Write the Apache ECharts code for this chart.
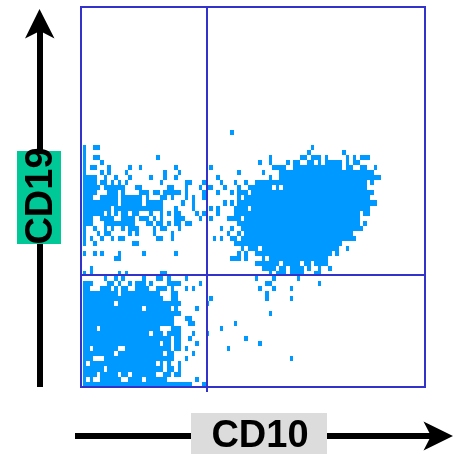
<!DOCTYPE html>
<html><head><meta charset="utf-8">
<style>html,body{margin:0;padding:0;background:#fff}#c{width:462px;height:454px}</style>
<script src="https://cdn.jsdelivr.net/npm/echarts@6/dist/echarts.min.js"></script>
</head><body><div id="c"></div>
<script>
// Occupied bins per CD19 row (top row first); each row is flat [fromCD10Bin, toCD10Bin, ...] runs.
const occupiedRuns = [
[42,42],[],[],
[0,0,3,4,65,65],
[0,0,64,64,74,74],
[0,0,3,4,21,21,53,53,62,63,65,67,69,69,75,75,77,77,79,81],
[0,0,5,5,50,50,53,53,58,58,60,61,64,65,67,67,69,73,75,75,77,78],
[0,0,2,3,7,7,13,13,16,16,26,26,36,36,54,57,60,73,75,76,79,80,83,83],
[0,0,5,5,7,7,12,12,23,23,27,27,44,44,51,51,56,82],
[0,3,6,6,9,9,13,13,19,19,23,23,26,26,38,38,53,53,56,84],
[0,3,5,6,8,8,10,10,12,12,22,22,29,30,34,34,39,39,43,43,46,46,49,80,82,82],
[0,4,6,11,15,16,24,25,29,29,33,33,35,36,40,40,44,44,47,53,55,55,57,80],
[0,3,7,9,11,11,16,18,20,21,23,27,29,29,34,34,38,38,42,42,44,46,48,82],
[0,2,5,9,11,16,18,18,22,23,25,25,29,29,31,31,34,34,44,44,46,81],
[0,9,11,16,18,22,28,28,31,31,40,40,42,42,44,83],
[0,7,9,19,20,22,26,26,31,31,36,36,38,38,43,46,48,81],
[0,5,7,7,9,9,11,12,14,15,19,19,22,22,24,24,26,27,32,32,34,34,38,38,43,78,80,81],
[0,2,5,8,11,14,16,18,20,20,22,22,26,28,33,33,36,36,41,44,46,78],
[0,2,6,14,18,19,21,22,24,24,26,27,29,30,44,78,80,80],
[0,0,3,3,6,6,8,8,11,11,13,15,20,20,22,23,27,27,39,39,42,42,45,79],
[0,0,4,4,6,7,13,13,15,15,20,20,25,25,41,41,44,44,46,76],
[0,0,2,2,5,5,8,8,10,11,21,22,25,25,37,37,39,39,42,43,45,77],
[0,0,3,3,14,15,43,73],
[45,45,47,49,51,72,75,75],
[0,0,3,3,5,5,10,10,17,17,26,26,44,44,46,46,49,70,72,72],
[9,10,42,44,46,46,51,51,53,69],
[49,55,57,61,63,64,66,69],
[2,2,51,54,56,57,59,62,64,64,67,67,70,70],
[0,0,2,2,10,10,12,12,22,23,53,53,55,57,59,62,66,67],
[6,6,9,9,11,11,17,17,21,22,24,24,29,29,49,49,54,54,61,61],
[0,2,7,8,10,10,13,13,15,17,19,19,24,27,33,33,52,53,67,67],
[0,1,5,7,9,9,11,12,15,18,21,23,25,25,29,29,31,31,50,50,54,54,59,59],
[0,9,11,21,25,26,52,52],
[0,22,25,26,36,36,52,52,59,59],
[0,8,10,27,35,35],
[0,16,18,24,26,26,32,32],
[0,27,53,53],
[0,25,29,30],
[0,25,30,31,43,43],
[0,3,5,21,25,27,39,39],
[0,18,20,22,24,27,31,31,35,35],
[0,24,26,27,30,30,46,46],
[0,21,23,24,26,27,32,32,50,50],
[0,1,3,9,12,24,26,27,29,29,41,41],
[0,8,10,22,24,25,31,31],
[0,2,6,25,29,29,59,59],
[0,0,2,20,22,22,24,24,27,27],
[0,5,7,22,24,25,27,27],
[0,3,5,9,11,12,14,20,23,24,26,27],
[0,0,2,2,5,10,13,16,18,23,32,32],
[0,30,34,34]
];
const xLabel = 'CD10';
const yLabel = 'CD19';
const xGateBin = 35.43;   // CD10 quadrant gate
const yGateBin = 22.19;   // CD19 quadrant gate
const xRange = [-0.57, 97.71];
const yRange = [-0.08, 75.47];

const cells = [];
occupiedRuns.forEach((runs, r) => {
  for (let i = 0; i < runs.length; i += 2) {
    for (let c = runs[i]; c <= runs[i + 1]; c++) cells.push([c, occupiedRuns.length - 1 - r]);
  }
});

const chart = echarts.init(document.getElementById('c'), null, {renderer: 'canvas'});
const hidden = {show: false};
const gate = '#3333cc';
const font = 'bold 38px "Liberation Sans", Arial, sans-serif';
chart.setOption({
  animation: false,
  backgroundColor: '#ffffff',
  grid: {show: false, left: 81, top: 7, width: 344, height: 380},
  xAxis: {type: 'value', min: xRange[0], max: xRange[1], axisLine: hidden, axisTick: hidden, axisLabel: hidden, splitLine: hidden},
  yAxis: {type: 'value', min: yRange[0], max: yRange[1], axisLine: hidden, axisTick: hidden, axisLabel: hidden, splitLine: hidden},
  series: [{
    type: 'custom',
    silent: true,
    clip: false,
    data: cells,
    encode: {x: 0, y: 1},
    renderItem(params, api) {
      const a = api.coord([api.value(0), api.value(1)]);
      const b = api.coord([api.value(0) + 1, api.value(1) + 1]);
      const x0 = Math.round(a[0]), x1 = Math.round(b[0]), y0 = Math.round(b[1]), y1 = Math.round(a[1]);
      return {type: 'rect', shape: {x: x0, y: y0, width: x1 - x0, height: y1 - y0}, style: {fill: '#0099ff'}};
    }
  }]
});
const gx = Math.round(chart.convertToPixel({xAxisIndex: 0}, xGateBin));
const gy = Math.round(chart.convertToPixel({yAxisIndex: 0}, yGateBin));
const bar = (x, y, w, h, fill, z) => ({type: 'rect', z: z || 5, shape: {x, y, width: w, height: h}, style: {fill}});
chart.setOption({
  graphic: [
    // plot frame and quadrant gates
    bar(80, 6, 346, 2, gate), bar(80, 386, 346, 2, gate), bar(80, 6, 2, 382, gate), bar(424, 6, 2, 382, gate),
    bar(gx - 1, 7, 2, 385, gate), bar(81, gy - 1, 344, 2, gate),
    // Y arrow
    bar(37, 30, 6, 357, '#000'),
    {type: 'polygon', z: 5, shape: {points: [[39.5, 9], [54.5, 38.5], [40, 31], [25, 38.5]]}, style: {fill: '#000'}},
    bar(17, 151, 44, 93, '#00c896', 10),
    {type: 'text', z: 11, x: 42, y: 196, rotation: Math.PI / 2,
      style: {text: yLabel, fill: '#000', font, align: 'center', verticalAlign: 'middle'}},
    // X arrow
    bar(75, 433, 365, 6, '#000'),
    {type: 'polygon', z: 5, shape: {points: [[453, 436], [423.5, 450.5], [431, 436], [423.5, 421.5]]}, style: {fill: '#000'}},
    bar(191, 413, 136, 41, '#dcdcdc', 10),
    {type: 'text', z: 11, x: 260, y: 437,
      style: {text: xLabel, fill: '#000', font, align: 'center', verticalAlign: 'middle'}}
  ]
});
</script></body></html>
